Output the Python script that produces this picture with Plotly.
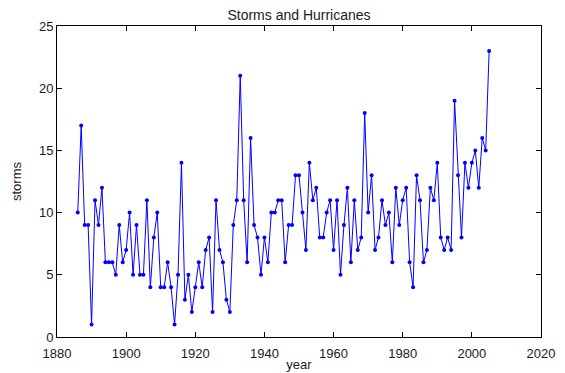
import plotly.graph_objects as go

years = list(range(1886, 2006))
storms = [
    10, 17, 9, 9, 1, 11, 9, 12, 6, 6, 6, 5, 9, 6, 7, 10, 5, 9, 5, 5, 11, 4, 8, 10,
    4, 4, 6, 4, 1, 5, 14, 3, 5, 2, 4, 6, 4, 7, 8, 2, 11, 7, 6, 3, 2, 9, 11, 21,
    11, 6, 16, 9, 8, 5, 8, 6, 10, 10, 11, 11, 6, 9, 9, 13, 13, 10, 7, 14, 11, 12, 8, 8,
    10, 11, 7, 11, 5, 9, 12, 6, 11, 7, 8, 18, 10, 13, 7, 8, 11, 9, 10, 6, 12, 9, 11, 12,
    6, 4, 13, 11, 6, 7, 12, 11, 14, 8, 7, 8, 7, 19, 13, 8, 14, 12, 14, 15, 12, 16, 15, 23,
]
assert len(years) == len(storms)

x_ticks = [1880, 1900, 1920, 1940, 1960, 1980, 2000, 2020]
y_ticks = [0, 5, 10, 15, 20, 25]

fig = go.Figure()
fig.add_trace(go.Scatter(
    x=years, y=storms, mode="lines+markers",
    line=dict(color="#0000ff", width=1),
    marker=dict(color="#0000ff", size=4),
    showlegend=False,
))

FAM = "Liberation Sans, Arial, sans-serif"
tick_font = dict(family=FAM, size=13, color="#1a1a1a")
label_font = dict(family=FAM, size=13, color="#1a1a1a")

# page body has an 8px default margin; figure is sized so the page matches 565x373
W, H = 557, 365
fig.update_layout(
    width=W, height=H,
    margin=dict(l=49, r=24, t=18, b=36),
    paper_bgcolor="white", plot_bgcolor="white",
    font=tick_font,
    title=dict(text="Storms and Hurricanes", x=0.5, xref="paper", xanchor="center",
               y=(H - 7) / H, yref="container", yanchor="middle",
               font=dict(family=FAM, size=14, color="#1a1a1a")),
)

axis_common = dict(
    showline=True, linecolor="black", linewidth=1, mirror="ticks",
    ticks="inside", ticklen=5, tickwidth=1, tickcolor="black",
    showgrid=False, zeroline=False, tickfont=tick_font,
)
fig.update_xaxes(range=[1880, 2020], tickvals=x_ticks, ticklabelstandoff=4,
                 title=dict(text="year", font=label_font, standoff=0),
                 automargin=False, **axis_common)
fig.update_yaxes(range=[0, 25], tickvals=y_ticks, ticklabelstandoff=0,
                 title=dict(text="storms", font=label_font, standoff=14),
                 automargin=False, **axis_common)

fig.write_html("out.html")
